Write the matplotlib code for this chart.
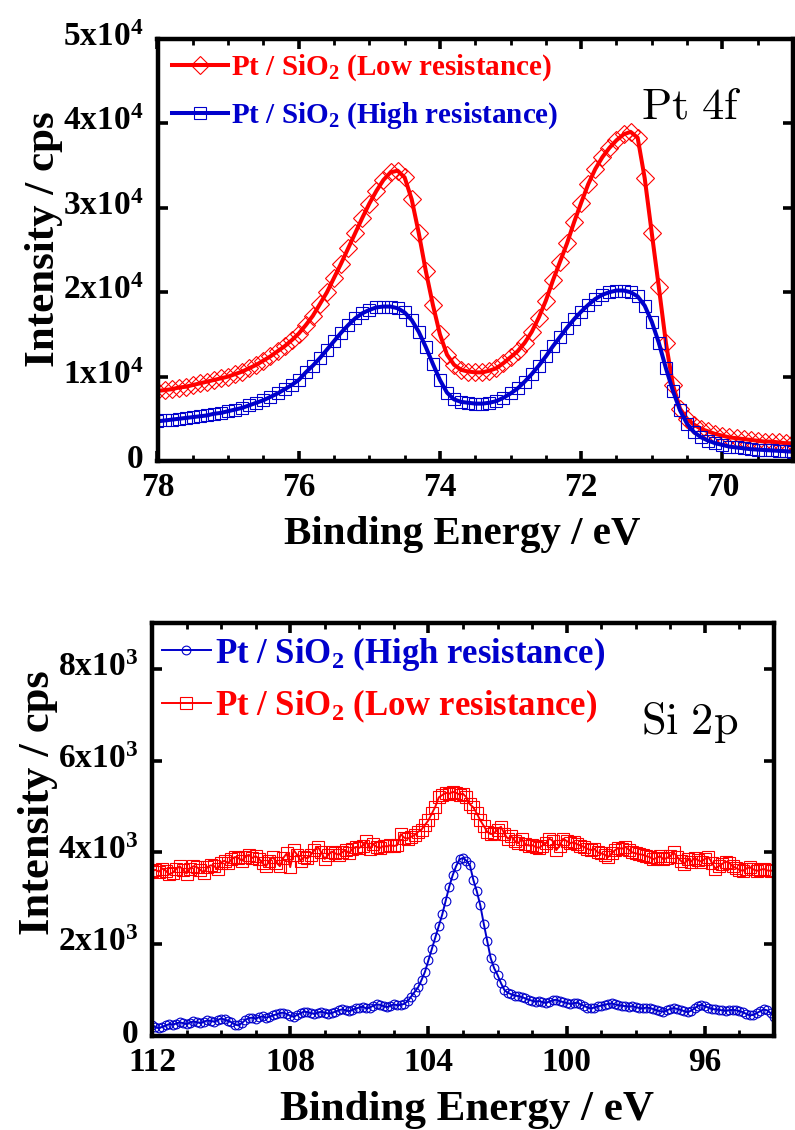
import numpy as np
import matplotlib
matplotlib.use("Agg")
import matplotlib.pyplot as plt
from matplotlib.transforms import ScaledTranslation

plt.rcParams['font.family'] = ['Liberation Serif', 'DejaVu Serif']
plt.rcParams['font.weight'] = 'bold'
plt.rcParams['mathtext.fontset'] = 'custom'
plt.rcParams['mathtext.rm'] = 'Liberation Serif:bold'
plt.rcParams['mathtext.it'] = 'Liberation Serif:bold'
plt.rcParams['mathtext.bf'] = 'Liberation Serif:bold'
plt.rcParams['mathtext.default'] = 'bf'

# ---------------- Pt 4f data (step 0.1 eV, 78.0 -> 69.0), units of 1e3 cps ----------------
pt_start, pt_stop = 78.0, 69.0
pt_low = [8.3, 8.4, 8.5, 8.7, 8.8, 9.0, 9.2, 9.4, 9.6, 9.8,
          10.0, 10.3, 10.6, 11.0, 11.4, 11.9, 12.4, 13.0, 13.6, 14.3,
          15.1, 16.1, 17.2, 18.6, 20.0, 21.7, 23.4, 25.2, 27.0, 28.8,
          30.5, 32.0, 33.3, 34.2, 34.4, 33.6, 31.0, 27.0, 22.5, 18.5,
          15.0, 12.6, 11.4, 10.8, 10.6, 10.5, 10.5, 10.7, 11.0, 11.6,
          12.3, 13.0, 14.0, 15.3, 17.0, 19.0, 21.4, 23.6, 25.8, 28.3,
          30.6, 32.8, 34.6, 36.0, 37.1, 38.0, 38.7, 39.0, 38.3, 33.5,
          27.0, 20.6, 14.0, 9.0, 6.2, 5.0, 4.3, 3.8, 3.5, 3.2,
          3.0, 2.8, 2.7, 2.6, 2.5, 2.4, 2.3, 2.3, 2.2, 2.1,
          2.1]
pt_high = [4.7, 4.8, 4.9, 5.0, 5.1, 5.2, 5.3, 5.4, 5.6, 5.7,
           5.9, 6.1, 6.3, 6.6, 6.9, 7.2, 7.6, 8.0, 8.5, 9.0,
           9.6, 10.5, 11.3, 12.2, 13.2, 14.2, 15.2, 16.1, 16.9, 17.5,
           17.9, 18.2, 18.3, 18.3, 18.1, 17.6, 16.7, 15.3, 13.5, 11.5,
           9.6, 8.1, 7.3, 7.0, 6.9, 6.8, 6.8, 6.9, 7.1, 7.5,
           8.0, 8.6, 9.4, 10.3, 11.3, 12.4, 13.6, 14.7, 15.8, 16.8,
           17.7, 18.5, 19.2, 19.7, 20.0, 20.2, 20.2, 20.0, 19.5, 18.4,
           16.5, 14.0, 11.0, 8.3, 6.0, 4.4, 3.4, 2.8, 2.4, 2.1,
           1.9, 1.7, 1.6, 1.5, 1.4, 1.35, 1.3, 1.25, 1.2, 1.15,
           1.1]

# ---------------- Si 2p data (step 0.1 eV, 112.0 -> 94.0), cps ----------------
si_start, si_stop = 112.0, 94.0
si_high = [250, 190, 170, 200, 230, 260, 250, 270, 300, 280,
           260, 290, 320, 300, 280, 310, 340, 330, 310, 350,
           380, 360, 330, 300, 250, 230, 280, 350, 390, 400,
           380, 410, 430, 400, 420, 450, 470, 500, 510, 480,
           440, 420, 460, 500, 530, 520, 500, 480, 510, 530,
           510, 490, 500, 530, 560, 580, 560, 540, 570, 600,
           620, 640, 600, 620, 660, 690, 680, 650, 630, 660,
           690, 670, 680, 700, 760, 860, 960, 1060, 1220, 1400,
           1650, 1900, 2150, 2400, 2650, 2950, 3250, 3500, 3700, 3850,
           3880, 3820, 3720, 3400, 3150, 2850, 2450, 2080, 1700, 1480,
           1330, 1150, 1000, 940, 910, 880, 870, 850, 820, 790,
           770, 750, 760, 740, 720, 750, 780, 790, 760, 740,
           720, 700, 710, 730, 690, 660, 620, 600, 620, 650,
           660, 680, 700, 710, 690, 670, 660, 650, 640, 650,
           630, 610, 600, 620, 610, 590, 560, 540, 530, 560,
           590, 610, 590, 570, 540, 520, 550, 600, 660, 680,
           650, 620, 590, 580, 570, 560, 550, 560, 570, 560,
           540, 520, 480, 450, 460, 500, 540, 580, 560, 500,
           420]
si_low = [3600, 3620, 3580, 3650, 3600, 3520, 3560, 3640, 3700, 3620,
          3540, 3650, 3700, 3680, 3620, 3560, 3680, 3720, 3700, 3640,
          3780, 3820, 3760, 3850, 3900, 3880, 3820, 3900, 3950, 3880,
          3920, 3860, 3760, 3700, 3820, 3900, 3780, 3700, 3880, 3980,
          3680, 4050, 3950, 3820, 3900, 3870, 3950, 4050, 4120, 4000,
          3860, 3950, 4020, 3980, 3950, 4000, 4050, 3980, 4080, 4120,
          4100, 4150, 4250, 4080, 4180, 4120, 4100, 4140, 4130, 4160,
          4140, 4160, 4400, 4320, 4300, 4340, 4380, 4450, 4500, 4600,
          4700, 4850, 5000, 5200, 5250, 5300, 5280, 5320, 5300, 5260,
          5280, 5200, 5050, 4980, 4850, 4700, 4580, 4450, 4400, 4420,
          4500, 4560, 4400, 4300, 4350, 4250, 4200, 4300, 4180, 4150,
          4160, 4120, 4100, 4150, 4200, 4300, 4250, 4050, 4150, 4300,
          4250, 4200, 4220, 4180, 4150, 4120, 4080, 4050, 4080, 4000,
          3980, 3950, 3900, 3980, 4050, 4100, 4080, 4120, 4060, 4000,
          3980, 3960, 3950, 3920, 3900, 3850, 3880, 3920, 3850, 3880,
          3920, 4000, 3900, 3820, 3750, 3850, 3800, 3880, 3830, 3800,
          3860, 3900, 3780, 3650, 3700, 3750, 3800, 3780, 3700, 3660,
          3620, 3600, 3650, 3680, 3630, 3600, 3620, 3640, 3610, 3600,
          3610]

pt_E = np.round(np.linspace(pt_start, pt_stop, len(pt_low)), 2)
si_E = np.round(np.linspace(si_start, si_stop, len(si_low)), 2)

pt_yticks = [0, 1e4, 2e4, 3e4, 4e4, 5e4]
pt_ylabels = ['0', '1x10$^{4}$', '2x10$^{4}$', '3x10$^{4}$', '4x10$^{4}$', '5x10$^{4}$']
pt_xticks = [78, 76, 74, 72, 70]
si_yticks = [0, 2e3, 4e3, 6e3, 8e3]
si_ylabels = ['0', '2x10$^{3}$', '4x10$^{3}$', '6x10$^{3}$', '8x10$^{3}$']
si_xticks = [112, 108, 104, 100, 96]

labels_top = ['Pt / SiO$_{2}$ (Low resistance)', 'Pt / SiO$_{2}$ (High resistance)']
labels_bot = ['Pt / SiO$_{2}$ (High resistance)', 'Pt / SiO$_{2}$ (Low resistance)']

RED = '#ff0000'
BLUE = '#0000cc'

fig = plt.figure(figsize=(7.95, 11.3), dpi=100)
ax1 = fig.add_axes([157.5 / 795, 669 / 1130, (793 - 157.5) / 795, 422 / 1130])
ax2 = fig.add_axes([152 / 795, 94 / 1130, (774 - 152) / 795, 413 / 1130])


def style(ax):
    for s in ax.spines.values():
        s.set_linewidth(3.2)
    ax.tick_params(which='both', direction='in', top=True, right=True,
                   labelsize=24)
    ax.tick_params(axis='x', which='major', pad=8)
    ax.tick_params(axis='y', which='major', pad=10)
    ax.tick_params(which='major', length=7.5, width=2.6)
    ax.tick_params(which='minor', length=4, width=2.0)
    ax.tick_params(axis='y', which='minor', left=False, right=False)
    for lab in ax.get_xticklabels() + ax.get_yticklabels():
        lab.set_fontweight('bold')
    up = ScaledTranslation(0, 0.05, fig.dpi_scale_trans)
    for lab in ax.get_yticklabels():
        lab.set_transform(lab.get_transform() + up)


# ---------------- Top panel ----------------
ax1.plot(pt_E, np.array(pt_low) * 1e3, '-', color=RED, lw=2.9,
         marker='D', ms=9.3, mfc='none', mec=RED, mew=0.8, label=labels_top[0])
ax1.plot(pt_E, np.array(pt_high) * 1e3, '-', color=BLUE, lw=2.9,
         marker='s', ms=8, mfc='none', mec=BLUE, mew=0.8, label=labels_top[1])
ax1.set_xlim(78, 69)
ax1.set_ylim(0, 5e4)
ax1.set_xticks(pt_xticks)
ax1.set_xticks(np.arange(69, 78.01, 0.5), minor=True)
ax1.set_yticks(pt_yticks)
ax1.set_yticklabels(pt_ylabels)
style(ax1)
ax1.set_xlabel('Binding Energy / eV', fontsize=29.5, fontweight='bold', labelpad=9)
ax1.xaxis.label.set_x(0.48)
ax1.set_ylabel('Intensity / cps', fontsize=31, fontweight='bold', labelpad=0)
ax1.yaxis.label.set_y(0.526)
leg1 = ax1.legend(loc='upper left', bbox_to_anchor=(0.023, 0.968), frameon=False,
                  fontsize=21, handlelength=1.9, handletextpad=0.12,
                  labelspacing=0.6, borderaxespad=0.0, borderpad=0.0)
for t, c in zip(leg1.get_texts(), [RED, BLUE]):
    t.set_color(c)
    t.set_fontweight('bold')
ax1.text(0.84, 0.838, r'$\mathrm{Pt\ 4f}$', transform=ax1.transAxes,
         fontsize=32, ha='center', va='center', math_fontfamily='cm')

# ---------------- Bottom panel ----------------
ax2.plot(si_E, si_high, '-', color=BLUE, lw=1.4,
         marker='o', ms=6.3, mfc='none', mec=BLUE, mew=0.8, label=labels_bot[0])
ax2.plot(si_E, si_low, '-', color=RED, lw=1.4,
         marker='s', ms=8, mfc='none', mec=RED, mew=0.8, label=labels_bot[1])
ax2.set_xlim(112, 94)
ax2.set_ylim(0, 9000)
ax2.set_xticks(si_xticks)
ax2.set_xticks(np.arange(94, 112.01, 1), minor=True)
ax2.set_yticks(si_yticks)
ax2.set_yticklabels(si_ylabels)
style(ax2)
ax2.set_xlabel('Binding Energy / eV', fontsize=31, fontweight='bold', labelpad=9)
ax2.xaxis.label.set_x(0.506)
ax2.set_ylabel('Intensity / cps', fontsize=32, fontweight='bold', labelpad=0)
ax2.yaxis.label.set_y(0.565)
leg2 = ax2.legend(loc='upper left', bbox_to_anchor=(0.016, 0.972), frameon=False,
                  fontsize=25, handlelength=1.4, handletextpad=0.12,
                  labelspacing=0.42, borderaxespad=0.0, borderpad=0.0)
for t, c in zip(leg2.get_texts(), [BLUE, RED]):
    t.set_color(c)
    t.set_fontweight('bold')
ax2.text(0.865, 0.76, r'$\mathrm{Si\ 2p}$', transform=ax2.transAxes,
         fontsize=32, ha='center', va='center', math_fontfamily='cm')

fig.savefig('out.png', dpi=100)
